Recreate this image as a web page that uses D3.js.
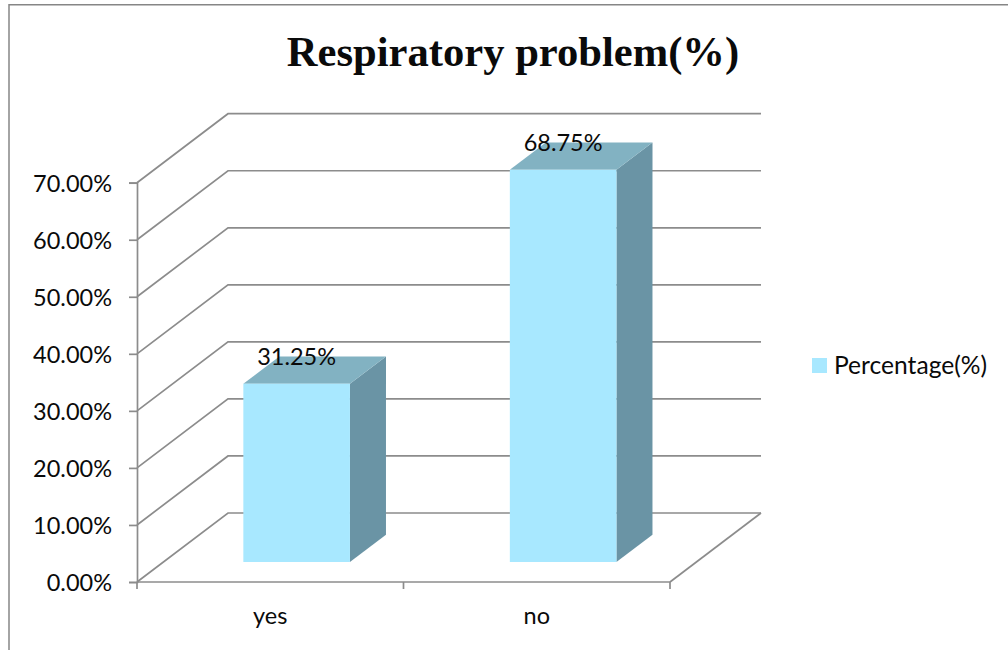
<!DOCTYPE html>
<html>
<head>
<meta charset="utf-8">
<script src="https://cdn.jsdelivr.net/npm/d3@7/dist/d3.min.js"></script>
<style>
html,body{margin:0;padding:0;background:#fff;}
svg{display:block;}
text{font-family:Lato,"Open Sans",sans-serif;fill:#0a0a0a;}
</style>
</head>
<body>
<svg id="chart" width="1008" height="650"></svg>
<script>
const categories = ["yes", "no"];
const percentages = [31.25, 68.75];
const valueLabels = ["31.25%", "68.75%"];
const yTicks = [0, 10, 20, 30, 40, 50, 60, 70];
const chartTitle = "Respiratory problem(%)";
const seriesName = "Percentage(%)";

const colFront = "#a8e8ff", colTop = "#82b2c2", colSide = "#6a94a5", colGrid = "#8c8c8c";
const labelSize = 23.5, lineWidth = 1.7;

const svg = d3.select("#chart");

// Outer chart border
svg.append("path").attr("d", "M9,650V4.7H1008").attr("fill", "none").attr("stroke", "#868686").attr("stroke-width", 1.5);

const y = d3.scaleLinear().domain([0, 70]).range([582, 182.7]);
const x = d3.scaleBand().domain(categories).range([137, 670]).paddingInner(0).paddingOuter(0);
const depth = d3.scaleLinear().domain([0, 1]).range([0, 91]);
const rise = d3.scaleLinear().domain([0, 1]).range([0, -69]);
const barWidth = x.bandwidth() * 0.4;
const nearDepth = 0.29, farDepth = 0.686;

// Side wall and back wall gridlines, one for each tick
const grid = svg.append("g").attr("fill", "none").attr("stroke", colGrid).attr("stroke-width", lineWidth);
const line = d3.line();
yTicks.forEach(t => {
  grid.append("path").attr("d", line([
    [x.range()[0], y(t)],
    [x.range()[0] + depth(1), y(t) + rise(1)],
    [x.range()[1] + depth(1), y(t) + rise(1)]
  ]));
});
// Right edge of the floor
grid.append("path").attr("d", line([
  [x.range()[1], y(0)],
  [x.range()[1] + depth(1), y(0) + rise(1)]
]));

// Axes
const yAxis = d3.axisLeft(y).tickValues(yTicks).tickFormat(d => d3.format(".2f")(d) + "%").tickSize(8).tickPadding(17);
const xAxis = d3.axisBottom(x).tickValues(categories).tickSize(0).tickPadding(25);

const yG = svg.append("g").attr("transform", "translate(137,0)").call(yAxis);
const xG = svg.append("g").attr("transform", `translate(0,${y(0)})`).call(xAxis);
[yG, xG].forEach(g => {
  g.selectAll("path,line").attr("stroke", colGrid).attr("stroke-width", lineWidth);
  g.selectAll("text").attr("font-size", labelSize).style("font-family", "Lato,sans-serif").attr("fill", "#0a0a0a");
});
yG.selectAll("text").attr("dy", 8.5);
xG.select(".domain").attr("d", `M137,0H670`);
// Category boundary ticks along the front of the floor
xG.selectAll(".boundary").data([137, 403.5, 670]).enter().append("line")
  .attr("class", "boundary").attr("x1", d => d).attr("x2", d => d).attr("y1", 0).attr("y2", 7)
  .attr("stroke", colGrid).attr("stroke-width", lineWidth);

// Extruded bars
const bars = svg.append("g").selectAll("g").data(categories.map((c, i) => ({c, v: percentages[i], label: valueLabels[i]}))).enter().append("g");
const barX = d => x(d.c) + (x.bandwidth() - barWidth) / 2 + depth(nearDepth);
const base = y(0) + rise(nearDepth);
const topY = d => base - (y(0) - y(d.v));
const dX = depth(farDepth - nearDepth), dY = rise(farDepth - nearDepth);

bars.append("path").attr("fill", colSide).attr("d", d => line([
  [barX(d) + barWidth, topY(d)],
  [barX(d) + barWidth + dX, topY(d) + dY],
  [barX(d) + barWidth + dX, base + dY],
  [barX(d) + barWidth, base]
]) + "Z");
bars.append("path").attr("fill", colTop).attr("d", d => line([
  [barX(d), topY(d)],
  [barX(d) + dX, topY(d) + dY],
  [barX(d) + barWidth + dX, topY(d) + dY],
  [barX(d) + barWidth, topY(d)]
]) + "Z");
bars.append("rect").attr("fill", colFront)
  .attr("x", barX).attr("y", topY).attr("width", barWidth).attr("height", d => base - topY(d));
bars.append("text").attr("font-size", labelSize).attr("text-anchor", "middle")
  .attr("x", d => barX(d) + barWidth / 2)
  .attr("y", d => topY(d) - 18.5).text(d => d.label);

// Title
svg.append("text").attr("x", 513).attr("y", 66).attr("text-anchor", "middle")
  .style("font-family", "'Liberation Serif',serif").attr("font-weight", "bold").attr("font-size", 42.6).text(chartTitle);

// Legend
svg.append("rect").attr("x", 812).attr("y", 358).attr("width", 15).attr("height", 15).attr("fill", colFront);
svg.append("text").attr("x", 834).attr("y", 374).attr("font-size", 24.6).text(seriesName);
</script>
</body>
</html>
